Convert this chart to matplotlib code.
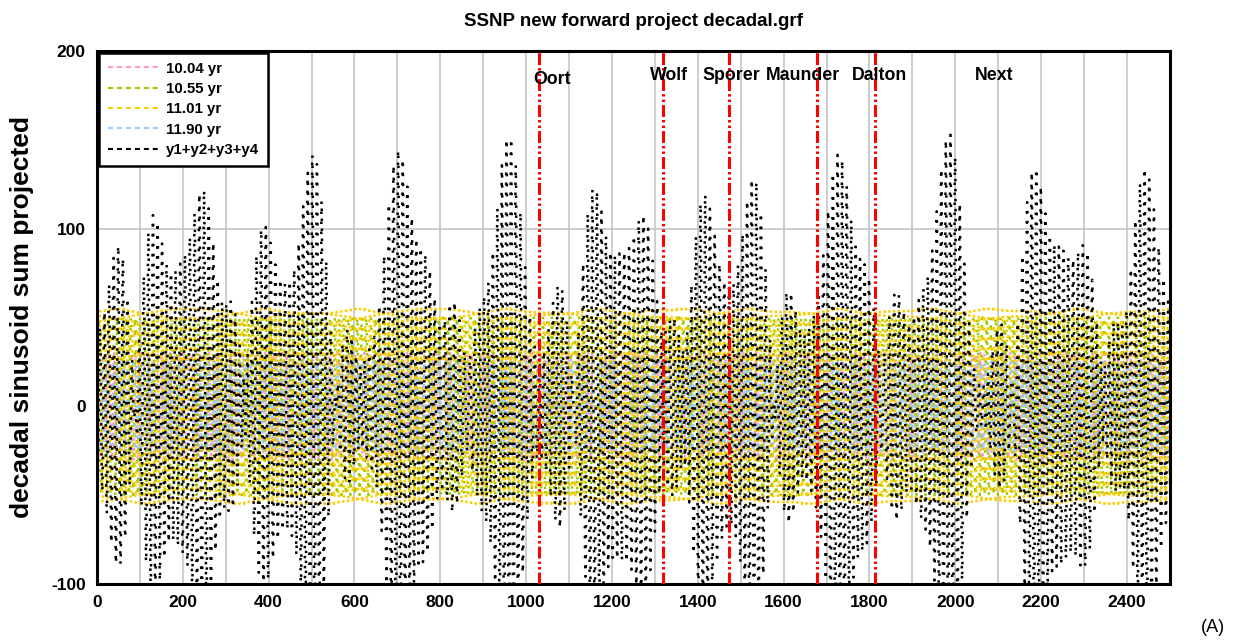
import numpy as np
import matplotlib
matplotlib.use("Agg")
import matplotlib.pyplot as plt
from matplotlib.lines import Line2D

# sinusoid components (period yr, amplitude, phase rad)
periods = [10.04, 10.55, 11.01, 11.90]
amplitudes = [30, 50, 55, 25]
phases = [0.0, 3.1416, 2.0420, 5.8119]
labels = ["10.04 yr", "10.55 yr", "11.01 yr", "11.90 yr", "y1+y2+y3+y4"]

# grand minima markers
event_years = [1030, 1319, 1472, 1678, 1813]
event_names = ["Oort", "Wolf", "Sporer", "Maunder", "Dalton", "Next"]
event_label_x = [1016, 1289, 1410, 1559, 1759, 2046]
event_label_y = [184, 186, 186, 186, 186, 186]

colors = ["#ff99cc", "#99cc00", "#ffcc00", "#99ccff", "black"]

plt.rcParams['font.family'] = ['Liberation Sans', 'DejaVu Sans']
plt.rcParams['axes.unicode_minus'] = False

years = np.arange(0, 2500.01, 0.25)
comps = [a * np.cos(2 * np.pi * years / p + ph)
         for p, a, ph in zip(periods, amplitudes, phases)]
total = np.sum(comps, axis=0)

fig = plt.figure(figsize=(12.35, 6.44), dpi=100)
ax = fig.add_axes([0.0785, 0.0932, 0.8688, 0.8276])

dots = (0, (1, 3))
for y, c in zip(comps, colors[:4]):
    ax.plot(years, y, color=c, lw=1.8, linestyle=dots, dash_capstyle='butt', zorder=2)
ax.plot(years, total, color='black', lw=1.8, linestyle=dots, dash_capstyle='butt', zorder=3)

for x in event_years:
    ax.axvline(x, color='red', lw=2.2, linestyle=(0, (3.9, 1, 0.8, 1, 0.8, 1)), zorder=4)
for name, x, y in zip(event_names, event_label_x, event_label_y):
    ax.text(x, y, name, fontsize=12.8, fontweight='bold', va='center', ha='left', zorder=5)

ax.set_xlim(0, 2500)
ax.set_ylim(-100, 200)
ax.set_xticks(np.arange(0, 2401, 200))
ax.set_xticks(np.arange(0, 2501, 100), minor=True)
ax.set_yticks([-100, 0, 100, 200])
ax.grid(True, which='both', axis='x', color='#c0c0c0', lw=1.1, zorder=0)
ax.grid(True, which='major', axis='y', color='#c0c0c0', lw=1.1, zorder=0)
ax.set_axisbelow(True)
ax.tick_params(which='both', length=0, labelsize=12.5, pad=8)
for lab in ax.get_xticklabels() + ax.get_yticklabels():
    lab.set_fontweight('bold')
for s in ax.spines.values():
    s.set_linewidth(2.2)

ax.set_title("SSNP new forward project decadal.grf", fontsize=13.5, fontweight='bold', pad=18)
ax.set_ylabel("decadal sinusoid sum projected", fontsize=19, fontweight='bold', labelpad=12)

handles = [Line2D([0], [0], color=c, lw=1.5, linestyle=(0, (2.4, 1.9))) for c in colors]
leg = ax.legend(handles, labels, loc='upper left', bbox_to_anchor=(0.0015, 0.997),
                borderaxespad=0, fancybox=False, framealpha=1, edgecolor='black',
                prop={'weight': 'bold', 'size': 10.8}, handlelength=3.4,
                handletextpad=0.5, labelspacing=0.42, borderpad=0.6)
leg.get_frame().set_linewidth(1.8)
leg.set_zorder(10)

fig.text(0.992, 0.026, "(A)", fontsize=13, ha='right', va='center')

fig.savefig("out.png", dpi=100)
